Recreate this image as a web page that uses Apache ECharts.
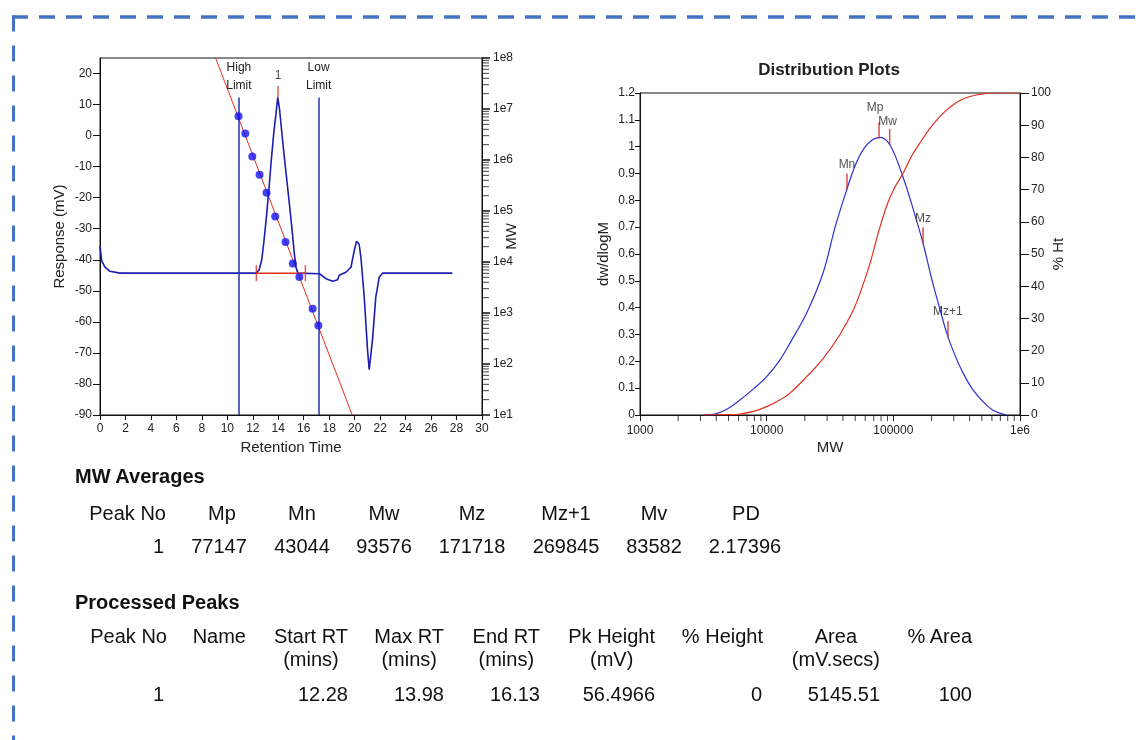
<!DOCTYPE html>
<html><head><meta charset="utf-8">
<script src="https://cdn.jsdelivr.net/npm/echarts@6/dist/echarts.min.js"></script>
<style>
html,body{margin:0;padding:0;background:#fff;}
body{width:1139px;height:740px;position:relative;overflow:hidden;font-family:"Liberation Sans",Arial,sans-serif;color:#111;}
#chart{position:absolute;left:0;top:0;width:1139px;height:740px;}
.t{position:absolute;white-space:nowrap;font-size:20px;line-height:20px;}
.hb{position:absolute;white-space:nowrap;font-size:20px;line-height:23px;text-align:center;}
.head{position:absolute;white-space:nowrap;font-size:20px;line-height:20px;font-weight:bold;}
#frame{position:absolute;left:0;top:0;pointer-events:none;}
</style></head><body>
<div id="chart"></div>
<svg id="frame" width="1139" height="740">
  <path d="M12 17 H1139" stroke="#4472c4" stroke-width="3.5" stroke-dasharray="16 11" fill="none"/>
  <path d="M13.5 15.5 V740" stroke="#4472c4" stroke-width="3" stroke-dasharray="16 14" fill="none"/>
</svg>
<div id="tables"></div>
<script>
// ---------------- data ----------------
// Chromatogram trace (Retention Time, mV)
const traceRT = [0, 0.13, 0.39, 0.78, 1.57, 12.27, 12.5, 12.7, 12.85, 13.05, 13.25, 13.45, 13.65, 13.82, 13.96, 14.1, 14.4, 14.65, 14.9, 15.1, 15.26, 15.4, 15.55, 17.23, 17.75, 18.27, 18.66, 18.79, 19.31, 19.71, 19.97, 20.15, 20.23, 20.35, 20.49, 20.75, 21.01, 21.14, 21.22, 21.4, 21.66, 21.93, 22.18, 27.67];
const traceMV = [-35.5, -40.3, -42.4, -43.7, -44.3, -44.3, -43.2, -40, -35, -27, -18, -8, 1, 7, 12.3, 8.5, -4, -13.5, -23, -31, -38, -42.5, -44.3, -44.5, -46.1, -46.9, -46.4, -45, -44, -42.4, -37, -34, -33.5, -35, -39.2, -52, -69, -75.4, -76, -65.8, -52, -45.6, -44.3, -44.3];
// Calibration standards (Retention Time, MW)
const calibRT = [10.88, 11.41, 11.96, 12.53, 13.08, 13.76, 14.57, 15.14, 15.66, 16.70, 17.15];
const calibMW = [7.18e6, 3.32e6, 1.17e6, 5.16e5, 2.28e5, 7.76e4, 2.46e4, 9.35e3, 5.09e3, 1.21e3, 569];
// Calibration fit line end points
const calibFitRT = [9.08, 19.81];
const calibFitMW = [1e8, 10];
// Integration limits
const limitNames = ['High\nLimit', 'Low\nLimit'];
const limitRT = [10.91, 17.17];
const limitTopMV = 12.3;
// Peak
const peakNo = '1';
const peakStartRT = 12.28, peakMaxRT = 13.98, peakEndRT = 16.13;
const baselineMV = -44.3, peakTopMV = 12.3;
// Axis ticks
const leftYTicks = [-90, -80, -70, -60, -50, -40, -30, -20, -10, 0, 10, 20];
const minorK = [2, 3, 4, 5, 6, 7, 8, 9];
const leftLogDecades = [10, 100, 1000, 1e4, 1e5, 1e6, 1e7];
const distLogDecades = [1000, 1e4, 1e5];
// Distribution plot: dw/dlogM
const distMW = [3260, 4030, 5000, 6150, 8000, 10000, 12500, 15280, 20700, 27900, 34700, 42900, 50000, 58000, 68000, 78500, 94200, 119200, 145000, 171700, 200000, 230000, 263600, 305000, 354800, 410000, 483000, 550000, 612000, 700000, 785000];
const distDW = [0, 0.005, 0.025, 0.056, 0.1, 0.143, 0.2, 0.268, 0.38, 0.53, 0.70, 0.84, 0.93, 0.99, 1.025, 1.035, 1.006, 0.887, 0.76, 0.64, 0.51, 0.405, 0.306, 0.225, 0.157, 0.105, 0.062, 0.035, 0.018, 0.006, 0];
// Cumulative % Ht
const cumMW = [3140, 5000, 6150, 8000, 10000, 12500, 15280, 20700, 27900, 37900, 48300, 56000, 65400, 76000, 88700, 102000, 119200, 140000, 162400, 190000, 220000, 255000, 295800, 345000, 402500, 470000, 545500, 700000, 881000, 1000000];
const cumPct = [0, 0.1, 0.3, 1.2, 2.6, 4.5, 6.8, 11.9, 17.5, 25, 32.6, 39, 47, 56.5, 65, 70.5, 75, 80.5, 84.5, 88.5, 91.6, 94.2, 96.3, 97.9, 98.9, 99.5, 99.9, 100, 100, 100];
// MW averages table
const mwHeaders = ['Peak No', 'Mp', 'Mn', 'Mw', 'Mz', 'Mz+1', 'Mv', 'PD'];
const mwRow = ['1', '77147', '43044', '93576', '171718', '269845', '83582', '2.17396'];
// Processed peaks table
const peakHeaders = ['Peak No', 'Name', 'Start RT\n(mins)', 'Max RT\n(mins)', 'End RT\n(mins)', 'Pk Height\n(mV)', '% Height', 'Area\n(mV.secs)', '% Area'];
const peakRow = ['1', '', '12.28', '13.98', '16.13', '56.4966', '0', '5145.51', '100'];
// Markers on distribution curve
const markerNames = ['Mn', 'Mp', 'Mw', 'Mz', 'Mz+1'];
const markerDW = [0.84, 1.03, 1.006, 0.64, 0.29];

// ---------------- layout / style ----------------
const FONT = '"Liberation Sans", Arial, sans-serif';
const markerLabelDist = {'Mn': 3, 'Mp': 9, 'Mw': 1, 'Mz': 3, 'Mz+1': 3};
const markerLabelOff = {'Mn': [0, 0], 'Mp': [-4, 0], 'Mw': [-2, 0], 'Mz': [0, 0], 'Mz+1': [0, 0]};

const markerMW = markerNames.map(n => Number(mwRow[mwHeaders.indexOf(n)]));
const leftMinor = [];
leftLogDecades.forEach(d => minorK.forEach(k => leftMinor.push(k * d)));
const distMinor = [];
distLogDecades.forEach(d => minorK.forEach(k => distMinor.push(k * d)));

const lbl = {color: '#222', fontSize: 12, fontFamily: FONT};
const nameStyle = {color: '#222', fontSize: 15, fontFamily: FONT};
const axLine = {show: true, onZero: false, lineStyle: {color: '#111', width: 1}};
const RED = '#e0301e';

const chart = echarts.init(document.getElementById('chart'), null, {renderer: 'canvas'});
chart.setOption({
  animation: false,
  backgroundColor: '#fff',
  textStyle: {fontFamily: FONT},
  title: {text: 'Distribution Plots', left: 824, top: 57, textAlign: 'center',
    textStyle: {fontSize: 17, fontWeight: 'bold', color: '#222', fontFamily: FONT}},
  grid: [
    {left: 100, top: 58, width: 382, height: 357, show: true, borderColor: '#111', borderWidth: 1},
    {left: 640, top: 93, width: 380, height: 322, show: true, borderColor: '#111', borderWidth: 1}
  ],
  xAxis: [
    {gridIndex: 0, type: 'value', min: 0, max: 30, interval: 2,
      name: 'Retention Time', nameLocation: 'middle', nameGap: 25, nameMoveOverlap: false, nameTextStyle: nameStyle,
      axisLine: axLine, axisTick: {show: true, length: 5, lineStyle: {color: '#111'}},
      axisLabel: Object.assign({margin: 8}, lbl), splitLine: {show: false}},
    {gridIndex: 1, type: 'log', logBase: 10, min: 1000, max: 1e6,
      name: 'MW', nameLocation: 'middle', nameGap: 25, nameMoveOverlap: false, nameTextStyle: nameStyle,
      axisLine: axLine, axisTick: {show: true, length: 6, lineStyle: {color: '#111'}},
      axisLabel: Object.assign({margin: 10, formatter: v => v >= 999999 ? '1e6' : String(Math.round(v))}, lbl),
      splitLine: {show: false}}
  ],
  yAxis: [
    {gridIndex: 0, type: 'value', min: -90, max: 25, position: 'left',
      name: 'Response (mV)', nameLocation: 'middle', nameRotate: 90, nameGap: 33, nameMoveOverlap: false, nameTextStyle: nameStyle,
      axisLine: axLine, axisTick: {show: true, length: 7, customValues: leftYTicks, lineStyle: {color: '#111'}},
      axisLabel: Object.assign({margin: 8, customValues: leftYTicks}, lbl), splitLine: {show: false}},
    {gridIndex: 0, type: 'log', logBase: 10, min: 10, max: 1e8, position: 'right',
      name: 'MW', nameLocation: 'middle', nameRotate: 90, nameGap: 22, nameMoveOverlap: false, nameTextStyle: nameStyle,
      axisLine: axLine, axisTick: {show: true, length: 8, lineStyle: {color: '#111', width: 1.5}},
      axisLabel: Object.assign({margin: 11, formatter: v => '1e' + Math.round(Math.log10(v))}, lbl),
      splitLine: {show: false}},
    {gridIndex: 1, type: 'value', min: 0, max: 1.2, interval: 0.1, position: 'left',
      name: 'dw/dlogM', nameLocation: 'middle', nameRotate: 90, nameGap: 29, nameMoveOverlap: false, nameTextStyle: nameStyle,
      axisLine: axLine, axisTick: {show: true, length: 5, lineStyle: {color: '#111'}},
      axisLabel: Object.assign({margin: 5}, lbl), splitLine: {show: false}},
    {gridIndex: 1, type: 'value', min: 0, max: 100, interval: 10, position: 'right',
      name: '% Ht', nameLocation: 'middle', nameRotate: 90, nameGap: 31, nameMoveOverlap: false, nameTextStyle: nameStyle,
      axisLine: axLine, axisTick: {show: true, length: 9, lineStyle: {color: '#111'}},
      axisLabel: Object.assign({margin: 11}, lbl), splitLine: {show: false}}
  ],
  series: [
    {type: 'line', xAxisIndex: 0, yAxisIndex: 0, data: traceRT.map((t, i) => [t, traceMV[i]]),
      symbol: 'none', lineStyle: {color: '#1c1cae', width: 1.6}, z: 3,
      markLine: {silent: true, symbol: ['none', 'none'], animation: false,
        lineStyle: {color: '#2233aa', width: 1.5, type: 'solid'},
        label: {show: true, position: 'end', formatter: '{b}', color: '#222', fontSize: 12, lineHeight: 18, distance: 3, fontFamily: FONT},
        emphasis: {disabled: true},
        data: limitRT.map((rt, i) => [{name: limitNames[i], coord: [rt, -90]}, {coord: [rt, limitTopMV]}])}},
    {type: 'line', xAxisIndex: 0, yAxisIndex: 1, data: calibFitRT.map((t, i) => [t, calibFitMW[i]]),
      symbol: 'none', lineStyle: {color: RED, width: 1}, z: 2},
    {type: 'scatter', xAxisIndex: 0, yAxisIndex: 1, data: calibRT.map((t, i) => [t, calibMW[i]]),
      symbolSize: 8, itemStyle: {color: '#1414f0'}, z: 5},
    {type: 'line', xAxisIndex: 0, yAxisIndex: 0, data: [[peakStartRT, baselineMV], [peakEndRT, baselineMV]],
      symbol: 'none', lineStyle: {color: RED, width: 1.5}, z: 4},
    {type: 'scatter', xAxisIndex: 0, yAxisIndex: 0, data: [[peakStartRT, baselineMV], [peakEndRT, baselineMV]],
      symbol: 'rect', symbolSize: [1.5, 16], itemStyle: {color: RED}, z: 4},
    {type: 'scatter', xAxisIndex: 0, yAxisIndex: 0, data: [{name: peakNo, value: [peakMaxRT, peakTopMV]}],
      symbol: 'rect', symbolSize: [1.5, 11], symbolOffset: [0, -6], itemStyle: {color: RED},
      label: {show: true, position: 'top', formatter: '{b}', distance: 4, fontSize: 12, color: '#222', fontFamily: FONT}, z: 4},
    {type: 'scatter', xAxisIndex: 0, yAxisIndex: 1, data: leftMinor.map(v => [30, v]), silent: true, clip: false,
      symbol: 'rect', symbolSize: [7, 1], symbolOffset: [3.5, 0], itemStyle: {color: '#111'}, z: 10},
    {type: 'line', xAxisIndex: 1, yAxisIndex: 2, data: distMW.map((m, i) => [m, distDW[i]]),
      symbol: 'none', smooth: 0.35, lineStyle: {color: '#2f2fd0', width: 1.2}, z: 3},
    {type: 'line', xAxisIndex: 1, yAxisIndex: 3, data: cumMW.map((m, i) => [m, cumPct[i]]),
      symbol: 'none', smooth: 0.35, lineStyle: {color: RED, width: 1.2}, z: 3},
    {type: 'scatter', xAxisIndex: 1, yAxisIndex: 2,
      data: markerNames.map((n, i) => ({name: n, value: [markerMW[i], markerDW[i]],
        label: {distance: markerLabelDist[n], offset: markerLabelOff[n]}})),
      symbol: 'rect', symbolSize: [1.5, 16], symbolOffset: [0, -8], itemStyle: {color: '#d02020'},
      label: {show: true, position: 'top', formatter: '{b}', fontSize: 12, color: '#222', fontFamily: FONT}, z: 6},
    {type: 'scatter', xAxisIndex: 1, yAxisIndex: 2, data: distMinor.map(v => [v, 0]), silent: true, clip: false,
      symbol: 'rect', symbolSize: [1, 6], symbolOffset: [0, 3], itemStyle: {color: '#111'}, z: 10}
  ]
});

// ---------------- tables (HTML text) ----------------
const W = 1139;
const box = document.getElementById('tables');
function addText(cls, txt, style) {
  const d = document.createElement('div');
  d.className = cls;
  d.innerHTML = txt.split('\n').join('<br>');
  Object.assign(d.style, style);
  box.appendChild(d);
}
addText('head', 'MW Averages', {left: '75px', top: '466px'});
const mwHdrCenter = [null, 222, 302, 384, 472, 566, 654, 746];
const mwValCenter = [null, 219, 302, 384, 472, 566, 654, 745];
mwHeaders.forEach((h, i) => {
  if (i === 0) {
    addText('t', h, {right: (W - 166) + 'px', top: '503px'});
    addText('t', mwRow[i], {right: (W - 164) + 'px', top: '536px'});
  } else {
    addText('t', h, {left: mwHdrCenter[i] + 'px', top: '503px', transform: 'translateX(-50%)'});
    addText('t', mwRow[i], {left: mwValCenter[i] + 'px', top: '536px', transform: 'translateX(-50%)'});
  }
});
addText('head', 'Processed Peaks', {left: '75px', top: '592px'});
const pkRight = [167, 246, 348, 444, 540, 655, 763, 880, 972];
const pkValRight = [164, 246, 348, 444, 540, 655, 762, 880, 972];
peakHeaders.forEach((h, i) => {
  addText('hb', h, {right: (W - pkRight[i]) + 'px', top: '625px'});
  if (peakRow[i] !== '') addText('t', peakRow[i], {right: (W - pkValRight[i]) + 'px', top: '684px'});
});
</script>
</body></html>
